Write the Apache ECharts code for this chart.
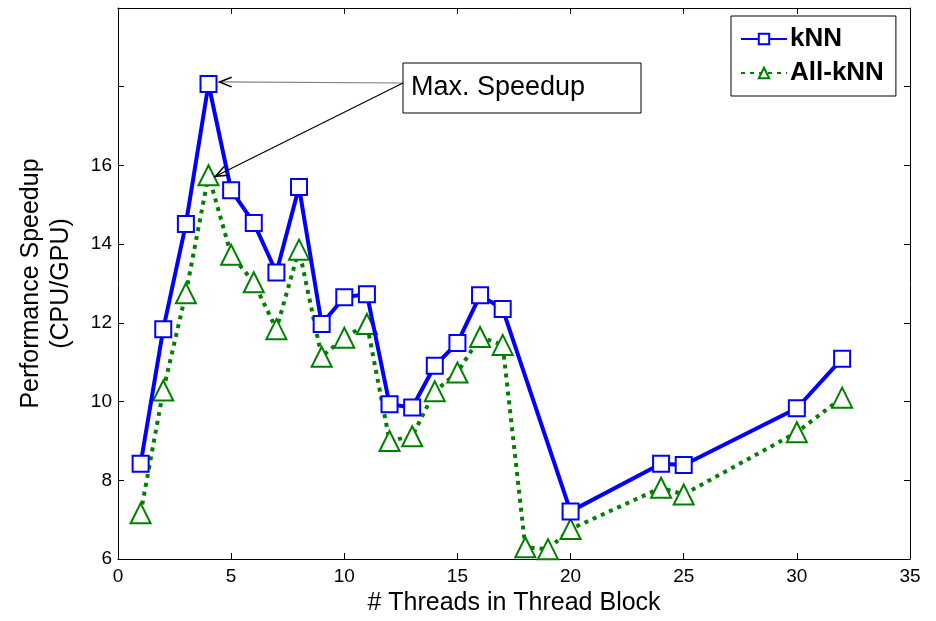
<!DOCTYPE html>
<html>
<head>
<meta charset="utf-8">
<script src="https://cdn.jsdelivr.net/npm/echarts@6/dist/echarts.min.js"></script>
<style>
  html, body { margin: 0; padding: 0; background: #fff; }
  #chart { width: 936px; height: 621px; }
</style>
</head>
<body>
<div id="chart"></div>
<script>
// values
const threads = [1, 2, 3, 4, 5, 6, 7, 8, 9, 10, 11, 12, 13, 14, 15, 16, 17, 20, 24, 25, 30, 32];
const knn = [8.42, 11.84, 14.51, 18.07, 15.37, 14.54, 13.28, 15.45, 11.97, 12.65, 12.73,
             9.93, 9.85, 10.91, 11.49, 12.70, 12.35, 7.21, 8.42, 8.39, 9.83, 11.09];
const allThreads = [1, 2, 3, 4, 5, 6, 7, 8, 9, 10, 11, 12, 13, 14, 15, 16, 17, 18, 19, 20, 24, 25, 30, 32];
const allKnn = [7.16, 10.28, 12.75, 15.75, 13.73, 13.03, 11.84, 13.86, 11.14, 11.62, 11.97,
                9.00, 9.12, 10.26, 10.74, 11.64, 11.44, 6.30, 6.25, 6.76, 7.81, 7.64, 9.22, 10.10];
const yLabelMax = 16;

const font = 'Arial, "Liberation Sans", sans-serif';
const pair = (xs, ys) => xs.map((x, i) => [x, ys[i]]);

const chart = echarts.init(document.getElementById('chart'));

const tickIn = { show: true, inside: true, length: 6, lineStyle: { color: '#000' } };
const axisLine = { show: true, onZero: false, lineStyle: { color: '#000', width: 1 } };

chart.setOption({
    animation: false,
    backgroundColor: '#fff',
    grid: { left: 118, right: 26, top: 8, bottom: 58 },
    xAxis: [
        {
            type: 'value', min: 0, max: 35, interval: 5,
            axisLine: axisLine, axisTick: tickIn, splitLine: { show: false },
            axisLabel: { color: '#000', fontSize: 19, fontFamily: font, margin: 8 },
            name: '# Threads in Thread Block', nameLocation: 'middle', nameGap: 32,
            nameTextStyle: { color: '#000', fontSize: 25, fontFamily: font }
        },
        {
            type: 'value', min: 0, max: 35, interval: 5, position: 'top',
            axisLine: axisLine, axisTick: tickIn, axisLabel: { show: false }, splitLine: { show: false }
        }
    ],
    yAxis: [
        {
            type: 'value', min: 6, max: 20, interval: 2,
            axisLine: axisLine, axisTick: tickIn, splitLine: { show: false },
            axisLabel: {
                color: '#000', fontSize: 19, fontFamily: font, margin: 6,
                formatter: v => (v > yLabelMax ? '' : String(v))
            },
            name: 'Performance Speedup\n(CPU/GPU)', nameLocation: 'middle', nameGap: 42,
            nameTextStyle: { color: '#000', fontSize: 25, fontFamily: font, lineHeight: 30 }
        },
        {
            type: 'value', min: 6, max: 20, interval: 2, position: 'right',
            axisLine: axisLine, axisTick: tickIn, axisLabel: { show: false }, splitLine: { show: false }
        }
    ],
    legend: {
        left: 731, top: 16, orient: 'vertical',
        padding: [10, 12, 10, 9], itemGap: 8,
        itemWidth: 46, itemHeight: 13,
        borderColor: '#000', borderWidth: 1, borderRadius: 0, backgroundColor: '#fff',
        textStyle: { color: '#000', fontSize: 26, fontWeight: 'bold', fontFamily: font, padding: [0, 0, 0, -2] },
        data: ['kNN', 'All-kNN']
    },
    series: [
        {
            name: 'kNN', type: 'line', data: pair(threads, knn),
            symbol: 'emptyRect', symbolSize: 16,
            lineStyle: { color: '#0000ff', width: 4 },
            itemStyle: { color: '#0000ff', borderWidth: 3 },
            z: 3
        },
        {
            name: 'All-kNN', type: 'line', data: pair(allThreads, allKnn),
            symbol: 'emptyTriangle', symbolSize: 20,
            lineStyle: { color: '#008000', width: 4, type: [4, 5] },
            itemStyle: { color: '#008000', borderWidth: 3 },
            z: 2
        }
    ]
});

// "Max. Speedup" callout, arrows aimed at the two peaks
function arrowTo(from, tip, color) {
    const ang = Math.atan2(from[1] - tip[1], from[0] - tip[0]);
    const len = 13, spread = 0.38;
    const a = [tip[0] + len * Math.cos(ang + spread), tip[1] + len * Math.sin(ang + spread)];
    const b = [tip[0] + len * Math.cos(ang - spread), tip[1] + len * Math.sin(ang - spread)];
    return [
        { type: 'line', shape: { x1: from[0], y1: from[1], x2: tip[0], y2: tip[1] },
          style: { stroke: color, lineWidth: 1.2 }, z: 10 },
        { type: 'polyline', shape: { points: [a, tip, b] },
          style: { stroke: '#000', lineWidth: 1.5, fill: null }, z: 10 }
    ];
}

const iPeak = knn.indexOf(Math.max(...knn));
const jPeak = allKnn.indexOf(Math.max(...allKnn));
const p1 = chart.convertToPixel({ xAxisIndex: 0, yAxisIndex: 0 }, [threads[iPeak], knn[iPeak]]);
const p2 = chart.convertToPixel({ xAxisIndex: 0, yAxisIndex: 0 }, [allThreads[jPeak], allKnn[jPeak]]);
const boxLeft = [403, 83];

chart.setOption({
    graphic: [
        { type: 'rect', shape: { x: 403, y: 63, width: 238, height: 50 },
          style: { fill: '#fff', stroke: '#000', lineWidth: 1 }, z: 9 },
        { type: 'text', x: 411, y: 88,
          style: { text: 'Max. Speedup', font: '27px ' + font, fill: '#000', verticalAlign: 'middle' }, z: 11 },
        ...arrowTo(boxLeft, [p1[0] + 11, p1[1] - 2], '#808080'),
        ...arrowTo(boxLeft, [p2[0] + 7, p2[1] + 1], '#000')
    ]
});
</script>
</body>
</html>
